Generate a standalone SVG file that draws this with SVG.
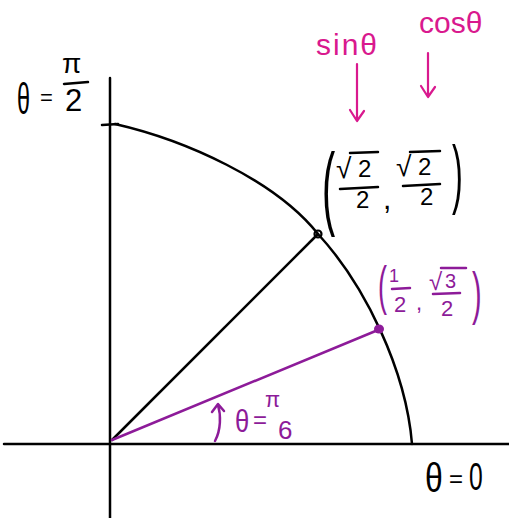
<svg xmlns="http://www.w3.org/2000/svg" width="509" height="518" viewBox="0 0 509 518">
<style>
.k{stroke:#000;stroke-width:2.5;fill:none;stroke-linecap:round;stroke-linejoin:round}
.p{stroke:#8d1b99;stroke-width:2.5;fill:none;stroke-linecap:round;stroke-linejoin:round}
.m{stroke:#d9198e;stroke-width:2.2;fill:none;stroke-linecap:round;stroke-linejoin:round}
text{font-family:"Liberation Sans","DejaVu Sans",sans-serif}
.tk{fill:#000}
.tp{fill:#8d1b99}
.tm{fill:#d9198e}
</style>
<rect width="509" height="518" fill="#fff"/>
<g id="axes">
<line class="k" x1="4" y1="444" x2="509" y2="444"/>
<line class="k" x1="110" y1="78" x2="110" y2="518"/>
<path class="k" d="M102,125 L118,124"/>
</g>
<g id="arc">
<path class="k" d="M115,124 C185,140 275,180 318,234 C365,285 406,370 412,444"/>
</g>
<g id="connectors">
<line class="k" x1="112" y1="440" x2="318" y2="234"/>
<line class="p" x1="112" y1="440" x2="378" y2="330"/>
<circle cx="318" cy="234" r="3.5" fill="none" stroke="#000" stroke-width="2.2"/>
<ellipse cx="379" cy="329" rx="5" ry="4.5" fill="#8d1b99"/>
<path class="m" d="M357,64 L357,121 M350,110 L357,121 L364,111"/>
<path class="m" d="M428,53 L428,97 M421,86 L428,97 L435,87"/>
<path class="p" d="M215,441 C221,430 221,415 218,405 M212,412 L218,404 L224,411"/>
</g>
<g id="label-top">
<text class="tk" font-size="45" transform="translate(17,114) scale(0.52,1)">θ</text>
<text class="tk" font-size="22" x="40" y="105">=</text>
<text class="tk" font-size="28" x="62" y="73">π</text>
<line class="k" x1="64" y1="84" x2="88" y2="82"/>
<text class="tk" font-size="31" x="65" y="111">2</text>
</g>
<g id="label-sin">
<text class="tm" font-size="30" x="316" y="55" letter-spacing="2">sinθ</text>
</g>
<g id="label-cos">
<text class="tm" font-size="30" x="419" y="33">cosθ</text>
</g>
<g id="label-sqrt2">
<text class="tk" font-size="44" transform="translate(322,218) scale(0.9,2.1)">(</text>
<text class="tk" font-size="28" x="336" y="178">√</text>
<line class="k" x1="350" y1="153" x2="378" y2="152"/>
<text class="tk" font-size="24" x="358" y="177">2</text>
<line class="k" x1="340" y1="189" x2="378" y2="187"/>
<text class="tk" font-size="24" x="356" y="208">2</text>
<text class="tk" font-size="30" x="383" y="209">,</text>
<text class="tk" font-size="28" x="396" y="176">√</text>
<line class="k" x1="410" y1="152" x2="440" y2="151"/>
<text class="tk" font-size="24" x="418" y="175">2</text>
<line class="k" x1="403" y1="186" x2="440" y2="184"/>
<text class="tk" font-size="24" x="420" y="205">2</text>
<text class="tk" font-size="36" transform="translate(452,199) scale(0.9,2.1)">)</text>
</g>
<g id="label-pi6-point">
<text class="tp" font-size="30" transform="translate(378,304) scale(0.9,1.8)">(</text>
<text class="tp" font-size="18" x="389" y="282">1</text>
<line class="p" x1="392" y1="289" x2="410" y2="288"/>
<text class="tp" font-size="22" x="394" y="312">2</text>
<text class="tp" font-size="22" x="416" y="310">,</text>
<text class="tp" font-size="24" x="429" y="290">√</text>
<line class="p" x1="441" y1="268" x2="466" y2="268"/>
<text class="tp" font-size="20" x="445" y="288">3</text>
<line class="p" x1="433" y1="294" x2="460" y2="293"/>
<text class="tp" font-size="22" x="441" y="316">2</text>
<text class="tp" font-size="32" transform="translate(472,313) scale(0.9,1.8)">)</text>
</g>
<g id="label-angle">
<text class="tp" font-size="32" transform="translate(235,432) scale(0.8,1)">θ</text>
<text class="tp" font-size="24" x="253" y="428">=</text>
<text class="tp" font-size="22" x="265" y="407">π</text>
<text class="tp" font-size="26" x="278" y="439">6</text>
</g>
<g id="label-zero">
<text class="tk" font-size="40" transform="translate(425,492) scale(0.8,1)">θ</text>
<text class="tk" font-size="24" x="449" y="487">=</text>
<text class="tk" font-size="38" transform="translate(469,490) scale(0.65,1)">0</text>
</g>
</svg>
